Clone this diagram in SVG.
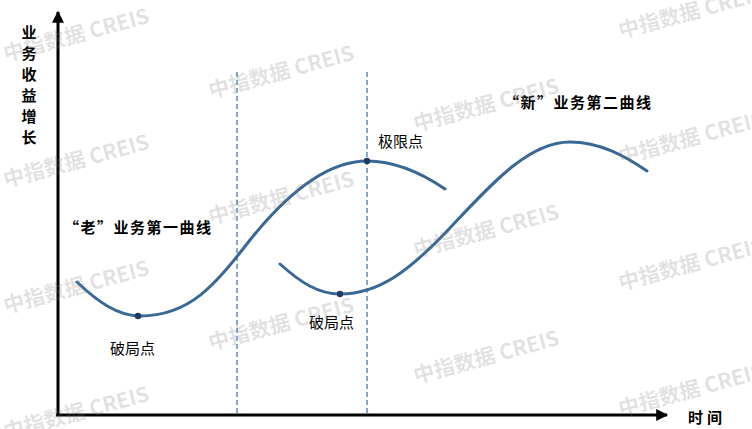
<svg xmlns="http://www.w3.org/2000/svg" width="752" height="429" viewBox="0 0 752 429">
<style>
.curve{fill:none;stroke:#3a6896;stroke-width:3;stroke-linecap:round}
.dash{stroke:#3d70a8;stroke-width:1.2;stroke-dasharray:5,3}
.axis{stroke:#000;stroke-width:3}
.dot{fill:#1f3a66}
.lbl{font-family:"Noto Sans CJK SC","Noto Sans",sans-serif;font-size:15px;fill:#000}
.bold{font-weight:bold}
.wm{font-family:"Noto Sans CJK SC","Noto Sans",sans-serif;font-size:21px;font-weight:bold;fill:#7a7a7a;fill-opacity:0.22}
</style>
<defs>
<marker id="ah" viewBox="0 0 10 10" refX="9" refY="5" markerWidth="4.5" markerHeight="4" orient="auto" markerUnits="strokeWidth">
<path d="M0,0 L10,5 L0,10 z" fill="#000"/>
</marker>
</defs>
<rect width="752" height="429" fill="#fff"/>
<g id="axes">
<line class="axis" x1="58" y1="416" x2="58" y2="12" marker-end="url(#ah)"/>
<line class="axis" x1="56" y1="415" x2="667" y2="415" marker-end="url(#ah)"/>
</g>
<g id="connectors">
<line class="dash" x1="237" y1="72" x2="237" y2="414"/>
<line class="dash" x1="367" y1="72" x2="367" y2="414"/>
</g>
<g id="curve-old">
<path class="curve" d="M77,282 C98,302 118,316 140,316 C190,316 215,285 250,240 C290,190 330,161 367,161 C395,161 420,172 445,189"/>
<circle class="dot" cx="138" cy="316" r="3.2"/>
<circle class="dot" cx="367" cy="161" r="3.2"/>
</g>
<g id="curve-new">
<path class="curve" d="M280,264 C300,282 318,294 340,294 C380,294 410,270 450,228 C495,180 530,142 570,142 C600,142 625,156 647,171"/>
<circle class="dot" cx="340" cy="294" r="3.2"/>
</g>
<g id="labels">
<g class="lbl bold" text-anchor="middle">
<text x="29" y="38">业</text>
<text x="29" y="59">务</text>
<text x="29" y="80">收</text>
<text x="29" y="101">益</text>
<text x="29" y="122">增</text>
<text x="29" y="143">长</text>
</g>
<text class="lbl bold" x="688" y="423" font-size="14" letter-spacing="4">时间</text>
<text class="lbl bold" x="64" y="233" letter-spacing="1.5">“老”业务第一曲线</text>
<text class="lbl bold" x="504" y="108" letter-spacing="1.5">“新”业务第二曲线</text>
<text class="lbl" x="110" y="354">破局点</text>
<text class="lbl" x="378" y="147">极限点</text>
<text class="lbl" x="309" y="328">破局点</text>
</g>
<g id="watermarks" text-anchor="middle">
<text class="wm" transform="translate(78,42) rotate(-15)">中指数据 CREIS</text>
<text class="wm" transform="translate(78,168) rotate(-15)">中指数据 CREIS</text>
<text class="wm" transform="translate(78,294) rotate(-15)">中指数据 CREIS</text>
<text class="wm" transform="translate(78,420) rotate(-15)">中指数据 CREIS</text>
<text class="wm" transform="translate(283,79) rotate(-15)">中指数据 CREIS</text>
<text class="wm" transform="translate(283,205) rotate(-15)">中指数据 CREIS</text>
<text class="wm" transform="translate(283,331) rotate(-15)">中指数据 CREIS</text>
<text class="wm" transform="translate(488,112) rotate(-15)">中指数据 CREIS</text>
<text class="wm" transform="translate(488,238) rotate(-15)">中指数据 CREIS</text>
<text class="wm" transform="translate(488,364) rotate(-15)">中指数据 CREIS</text>
<text class="wm" transform="translate(693,19) rotate(-15)">中指数据 CREIS</text>
<text class="wm" transform="translate(693,145) rotate(-15)">中指数据 CREIS</text>
<text class="wm" transform="translate(693,271) rotate(-15)">中指数据 CREIS</text>
<text class="wm" transform="translate(693,397) rotate(-15)">中指数据 CREIS</text>
</g>
</svg>
